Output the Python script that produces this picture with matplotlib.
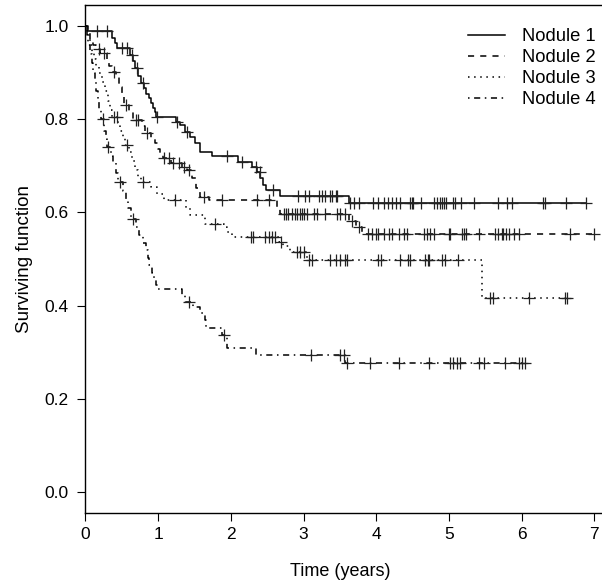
import numpy as np
import matplotlib
matplotlib.use("Agg")
import matplotlib.pyplot as plt

plt.rcParams['font.family'] = ['Liberation Sans', 'DejaVu Sans']

labels = ["Nodule 1", "Nodule 2", "Nodule 3", "Nodule 4"]

# Nodule 1
t1 = [0, 0.02, 0.37, 0.40, 0.44, 0.61, 0.65, 0.68, 0.72, 0.76, 0.80, 0.83, 0.87, 0.90, 0.93, 0.95,
      0.97, 1.245, 1.30, 1.37, 1.44, 1.51, 1.58, 1.74, 2.10, 2.29, 2.36, 2.405, 2.44, 2.49, 2.68, 3.63]
s1 = [1.0, 0.989, 0.975, 0.963, 0.952, 0.938, 0.925, 0.909, 0.893, 0.877, 0.866, 0.855, 0.845, 0.834,
      0.825, 0.816, 0.805, 0.795, 0.788, 0.773, 0.762, 0.748, 0.730, 0.720, 0.709, 0.698, 0.687, 0.673,
      0.659, 0.648, 0.635, 0.6195]
c1 = [0.16, 0.30, 0.50, 0.57, 0.64, 0.71, 0.79, 0.985, 1.26, 1.40, 1.95, 2.15, 2.35, 2.40, 2.58, 2.93,
      3.02, 3.07, 3.21, 3.25, 3.30, 3.37, 3.39, 3.44, 3.46, 3.64, 3.70, 3.76, 3.96, 4.03, 4.10, 4.16, 4.22,
      4.27, 4.33, 4.47, 4.49, 4.51, 4.61, 4.80, 4.83, 4.88, 4.90, 4.93, 4.96, 5.06, 5.09, 5.16, 5.34, 5.68,
      5.80, 5.87, 6.30, 6.32, 6.61, 6.88]

# Nodule 2
t2 = [0, 0.03, 0.06, 0.10, 0.15, 0.20, 0.30, 0.33, 0.36, 0.42, 0.46, 0.50, 0.53, 0.60, 0.65, 0.78, 0.82,
      0.90, 0.95, 1.00, 1.03, 1.06, 1.18, 1.33, 1.40, 1.47, 1.52, 1.58, 1.70, 2.64, 2.68, 3.62, 3.72, 3.80]
s2 = [1.0, 0.985, 0.97, 0.96, 0.95, 0.941, 0.93, 0.915, 0.902, 0.89, 0.87, 0.85, 0.83, 0.815, 0.798,
      0.785, 0.77, 0.76, 0.748, 0.737, 0.727, 0.716, 0.705, 0.698, 0.69, 0.673, 0.652, 0.634, 0.627, 0.609,
      0.597, 0.582, 0.568, 0.553]
c2 = [0.18, 0.26, 0.39, 0.56, 0.69, 0.72, 0.85, 1.08, 1.15, 1.21, 1.28, 1.36, 1.43, 1.625, 1.88, 2.36,
      2.53, 2.725, 2.76, 2.79, 2.84, 2.886, 2.91, 2.955, 2.98, 3.0, 3.05, 3.14, 3.18, 3.30, 3.46, 3.50,
      3.57, 3.67, 3.76, 3.89, 3.94, 3.99, 4.03, 4.10, 4.17, 4.22, 4.31, 4.38, 4.42, 4.65, 4.70, 4.74, 4.80,
      5.0, 5.01, 5.18, 5.21, 5.24, 5.41, 5.64, 5.68, 5.73, 5.75, 5.78, 5.82, 5.89, 5.96, 6.67, 6.99]

# Nodule 3
t3 = [0, 0.03, 0.06, 0.09, 0.12, 0.15, 0.19, 0.23, 0.27, 0.31, 0.34, 0.37, 0.45, 0.48, 0.51, 0.55, 0.60,
      0.64, 0.68, 0.72, 0.76, 0.90, 0.98, 1.08, 1.38, 1.44, 1.65, 1.90, 1.95, 2.02, 2.66, 2.72, 2.82, 3.05,
      5.45]
s3 = [1.0, 0.98, 0.96, 0.945, 0.93, 0.915, 0.90, 0.88, 0.86, 0.84, 0.82, 0.805, 0.79, 0.775, 0.76, 0.745,
      0.73, 0.71, 0.69, 0.675, 0.666, 0.655, 0.64, 0.627, 0.61, 0.594, 0.575, 0.569, 0.558, 0.548, 0.537,
      0.527, 0.516, 0.498, 0.4156]
c3 = [0.39, 0.43, 0.57, 0.79, 1.235, 1.785, 2.27, 2.31, 2.47, 2.52, 2.57, 2.61, 2.69, 2.91, 2.95, 3.0,
      3.07, 3.12, 3.37, 3.44, 3.50, 3.57, 3.60, 4.03, 4.06, 4.33, 4.44, 4.47, 4.67, 4.71, 4.72, 4.90, 4.95,
      5.12, 5.57, 5.61, 6.10, 6.59, 6.62]

# Nodule 4
t4 = [0, 0.02, 0.04, 0.06, 0.09, 0.11, 0.13, 0.15, 0.17, 0.19, 0.21, 0.26, 0.28, 0.30, 0.35, 0.38, 0.42,
      0.45, 0.52, 0.56, 0.59, 0.63, 0.70, 0.74, 0.79, 0.83, 0.86, 0.88, 0.91, 0.94, 0.97, 1.00, 1.33, 1.37,
      1.48, 1.58, 1.64, 1.66, 1.88, 1.95, 2.35, 3.57]
s4 = [1.0, 0.98, 0.96, 0.94, 0.92, 0.90, 0.88, 0.86, 0.84, 0.82, 0.80, 0.775, 0.757, 0.741, 0.72, 0.705,
      0.685, 0.666, 0.645, 0.627, 0.609, 0.585, 0.568, 0.551, 0.535, 0.519, 0.503, 0.487, 0.471, 0.455,
      0.445, 0.4356, 0.422, 0.408, 0.397, 0.385, 0.37, 0.353, 0.338, 0.31, 0.295, 0.277]
c4 = [0.235, 0.31, 0.47, 0.66, 1.42, 1.91, 3.10, 3.50, 3.55, 3.60, 3.91, 4.31, 4.72, 5.02, 5.06, 5.11,
      5.15, 5.41, 5.48, 5.77, 5.96, 6.00, 6.05]

x_ticks = [0, 1, 2, 3, 4, 5, 6, 7]
y_ticks = [0.0, 0.2, 0.4, 0.6, 0.8, 1.0]

series = [(t1, s1, c1), (t2, s2, c2), (t3, s3, c3), (t4, s4, c4)]
dash_styles = [None, (0, (4, 4)), (0, (1, 3)), (0, (1, 3, 4, 3))]

fig = plt.figure(figsize=(6.02, 5.84), dpi=100)
W, H = 602, 584
left_px, right_px, top_px, bot_px = 85.5, 604.5, 5, 513
ax = fig.add_axes([left_px / W, 1 - bot_px / H, (right_px - left_px) / W, (bot_px - top_px) / H])
ax.set_xlim(0, 7.14)
ax.set_ylim(-0.045, 1.045)

for (t, s, c), ls, lab in zip(series, dash_styles, labels):
    t = np.asarray(t, float)
    s = np.asarray(s, float)
    c = np.asarray(c, float)
    tend = c.max()
    tx = np.append(t, tend)
    sy = np.append(s, s[-1])
    kw = dict(color='black', lw=1.1)
    ax.step(tx, sy, where='post', linestyle='-' if ls is None else ls, label=lab, **kw)
    idx = np.searchsorted(t, c, side='right') - 1
    ax.plot(c, s[idx], linestyle='none', marker='+', markersize=8, mew=0.9, color='#222222')

ax.spines['right'].set_visible(False)
for sp in ['left', 'bottom', 'top']:
    ax.spines[sp].set_linewidth(1.0)
ax.set_xticks(x_ticks)
ax.set_xticklabels([str(v) for v in x_ticks])
ax.set_yticks(y_ticks)
ax.set_yticklabels([f"{v:.1f}" for v in y_ticks])
ax.tick_params(direction='out', length=6, width=0.8, labelsize=12.5)
ax.tick_params(axis='y', pad=6)
ax.tick_params(axis='x', pad=4)
ax.set_xlabel("Time (years)", fontsize=13)
ax.set_ylabel("Surviving function", fontsize=13.5)
ax.xaxis.set_label_coords(3.5 / 7.14, -0.098)
ax.yaxis.set_label_coords(-0.101, 0.5)

leg = ax.legend(loc='upper left', bbox_to_anchor=((468 - left_px) / (right_px - left_px), 1 - 23 / (bot_px - top_px)),
                frameon=False, fontsize=13.2, handlelength=2.0, handletextpad=0.95, labelspacing=0.22,
                borderaxespad=0, borderpad=0)

fig.savefig("out.png", dpi=100)
